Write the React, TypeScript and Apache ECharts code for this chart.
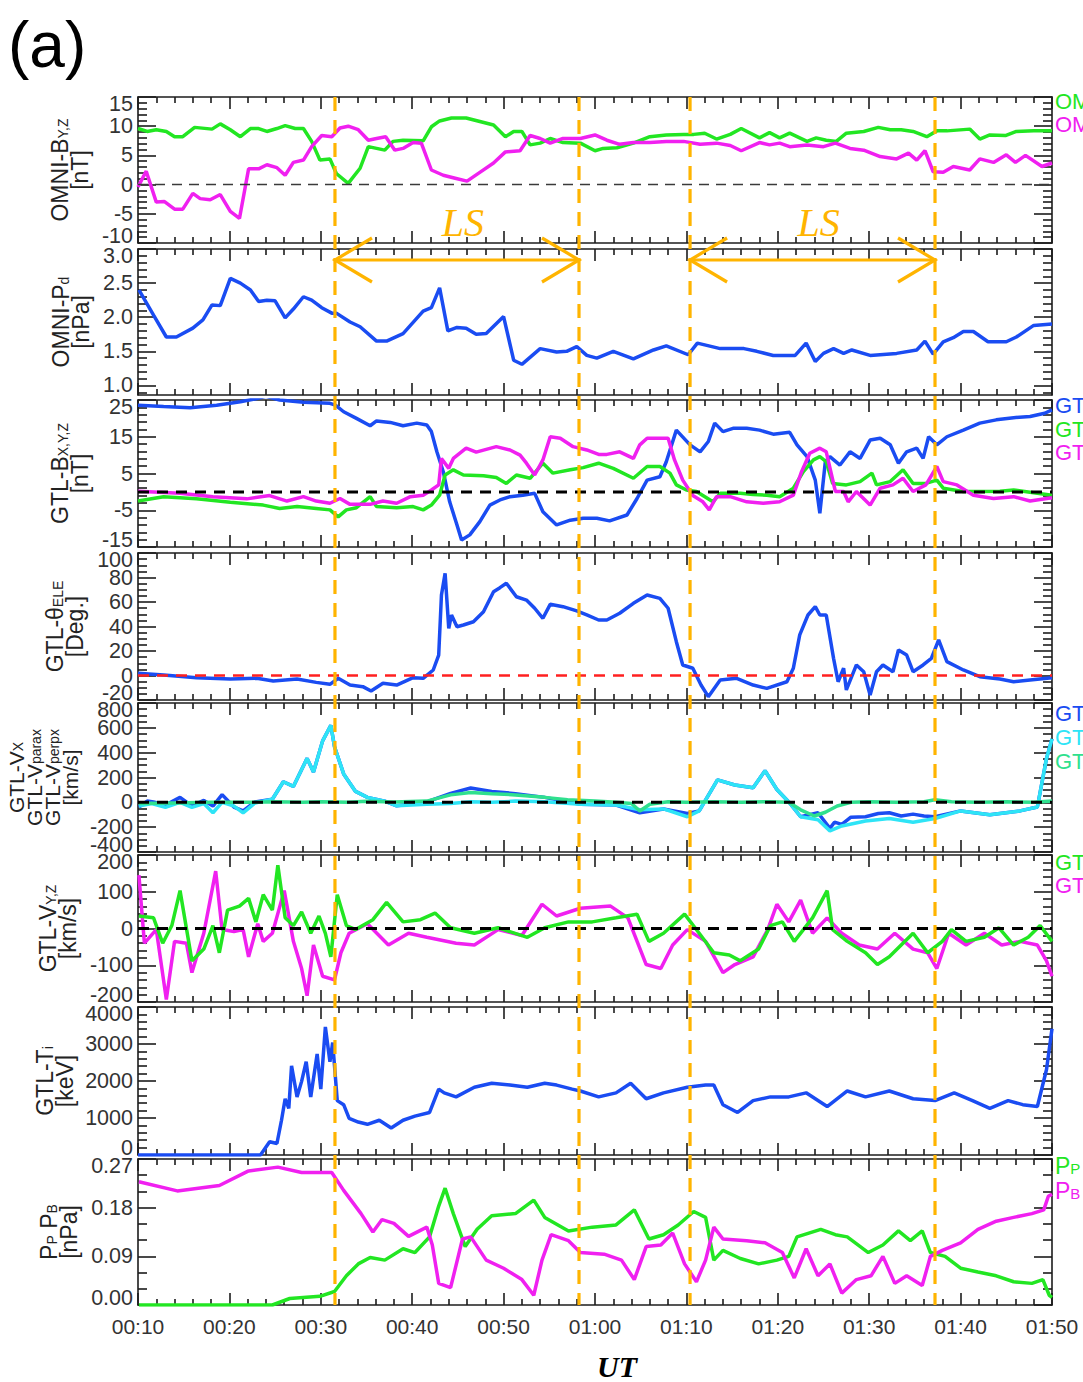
import React, { useEffect, useRef } from "react";
import * as echarts from "echarts";

type Pt = [number, number];

// ---------- time axis: minutes after 00:00 UT ----------
const T_START = 10;
const T_END = 110;
const T_STEP = 10;

// start / end of the two LS intervals (minutes after 00:00 UT)
const lsBounds = [31.55, 58.25, 70.4, 97.2];

// ---------- OMNI IMF (nT) ----------
const omniBy: Pt[] = [[10.0,9.6],[11.0,9.1],[12.0,9.4],[13.1,9.1],[14.0,8.2],[14.9,8.2],[16.2,9.8],[18.1,9.5],[19.0,10.4],[20.1,9.4],[21.2,8.2],[22.3,9.6],[23.2,9.6],[24.1,9.1],[25.2,9.6],[26.1,10.1],[27.2,9.6],[28.1,9.6],[29.0,7.4],[29.9,4.2],[31.0,4.4],[31.7,1.9],[33.0,0.2],[34.3,2.8],[35.2,6.5],[36.1,6.2],[37.0,5.9],[37.9,7.4],[39.0,7.6],[41.2,7.5],[42.1,9.9],[43.0,10.9],[44.3,11.4],[45.9,11.4],[47.4,10.8],[48.9,10.2],[50.2,8.2],[51.1,9.1],[52.0,9.1],[52.9,6.8],[54.0,7.1],[55.1,7.9],[56.5,7.2],[58.4,7.1],[60.0,5.8],[60.9,6.2],[62.4,6.3],[64.2,7.1],[66.0,8.2],[67.8,8.5],[69.7,8.6],[70.8,8.6],[72.0,8.8],[73.3,7.8],[74.8,8.6],[76.0,9.6],[78.0,8.0],[79.1,8.9],[80.2,8.0],[81.3,8.8],[83.2,7.4],[84.2,8.0],[85.3,7.6],[86.4,7.4],[87.5,8.8],[89.4,9.1],[91.0,9.8],[92.3,9.4],[93.5,9.4],[94.8,9.1],[96.3,8.2],[97.4,9.2],[98.5,9.2],[101.0,9.5],[102.1,7.8],[103.2,8.5],[104.9,8.4],[106.1,9.1],[108.0,9.2],[110.0,9.2]];
const omniBz: Pt[] = [[10.0,-0.4],[10.9,2.3],[12.0,-3.0],[12.9,-2.9],[14.0,-4.2],[14.9,-4.2],[16.0,-1.5],[16.8,-2.4],[17.9,-2.6],[19.0,-1.7],[20.1,-4.6],[21.1,-5.8],[22.1,2.7],[23.2,2.7],[24.1,3.4],[25.2,2.9],[26.1,1.6],[27.0,3.8],[28.1,4.2],[29.0,6.5],[30.1,8.4],[31.2,8.2],[32.1,9.7],[33.0,10.0],[34.1,9.4],[35.2,7.6],[36.1,7.9],[37.1,8.2],[38.1,5.9],[39.0,6.2],[40.1,7.2],[41.0,7.1],[42.1,2.5],[43.4,1.6],[44.7,1.1],[46.0,0.6],[47.4,2.1],[48.9,3.7],[50.2,5.6],[51.8,5.8],[52.9,8.4],[54.0,7.9],[55.1,7.1],[56.5,7.9],[58.4,7.9],[60.0,8.5],[61.3,7.6],[62.7,6.9],[64.2,7.2],[66.0,7.2],[67.8,7.4],[69.7,7.4],[71.5,6.9],[73.3,7.1],[74.8,6.7],[76.0,5.8],[78.0,7.2],[79.1,6.8],[80.2,7.1],[81.3,6.5],[83.2,6.8],[85.0,6.5],[86.3,7.1],[87.9,6.2],[89.4,5.9],[91.2,4.8],[93.0,4.4],[94.3,5.4],[95.2,4.2],[96.1,5.8],[97.0,2.2],[98.1,2.1],[99.2,3.1],[101.0,2.5],[102.1,4.4],[103.6,3.8],[105.0,5.1],[106.0,3.8],[107.1,5.0],[108.9,3.1],[110.0,3.7]];

// ---------- OMNI dynamic pressure (nPa) ----------
const omniPd: Pt[] = [[10.1,2.40],[11.7,2.03],[13.1,1.71],[14.2,1.71],[16.0,1.84],[17.1,1.96],[18.1,2.18],[19.0,2.17],[20.1,2.57],[21.2,2.50],[22.3,2.40],[23.2,2.23],[24.1,2.25],[25.0,2.24],[26.1,1.99],[27.0,2.12],[28.1,2.30],[29.0,2.25],[30.1,2.14],[31.2,2.06],[31.7,2.06],[33.2,1.93],[34.3,1.86],[36.1,1.65],[37.2,1.65],[39.0,1.76],[41.2,2.09],[42.1,2.14],[43.0,2.43],[43.9,1.80],[44.9,1.85],[45.9,1.84],[47.0,1.75],[48.1,1.76],[50.0,2.01],[51.1,1.37],[52.0,1.31],[54.0,1.54],[55.8,1.49],[56.9,1.50],[58.0,1.57],[59.1,1.44],[60.2,1.40],[62.0,1.50],[64.2,1.39],[66.4,1.52],[67.8,1.58],[70.2,1.45],[71.2,1.62],[73.7,1.54],[76.3,1.54],[77.7,1.50],[79.5,1.44],[81.9,1.44],[83.1,1.62],[84.1,1.35],[85.0,1.47],[86.1,1.54],[87.2,1.47],[88.1,1.52],[90.1,1.44],[93.0,1.47],[95.2,1.52],[96.1,1.65],[97.0,1.46],[98.1,1.64],[99.2,1.70],[100.3,1.79],[101.4,1.79],[103.0,1.64],[105.0,1.64],[106.1,1.71],[108.0,1.88],[110.0,1.90]];

// ---------- GTL magnetic field (nT) ----------
const gtlBx: Pt[] = [[10.0,23.6],[12.8,23.2],[15.7,22.9],[18.6,23.6],[21.2,24.5],[23.0,25.4],[24.0,26.0],[25.5,25.0],[28.1,24.4],[31.0,24.1],[31.6,23.6],[32.5,21.8],[33.9,20.0],[35.4,18.0],[36.1,19.3],[37.6,18.9],[39.0,18.0],[40.5,18.7],[41.6,18.2],[42.1,16.4],[42.7,10.9],[43.4,5.5],[44.1,-2.7],[44.9,-9.0],[45.4,-13.1],[46.3,-11.7],[47.4,-8.1],[48.5,-3.6],[49.6,-2.2],[50.7,-1.3],[52.1,-0.9],[53.4,-0.4],[54.3,-5.4],[55.8,-9.0],[57.3,-7.7],[58.7,-7.2],[60.2,-7.2],[61.6,-7.9],[63.5,-6.3],[64.6,-1.8],[65.7,3.2],[67.1,4.1],[67.8,8.2],[68.9,16.8],[70.4,12.8],[71.5,10.9],[72.4,13.7],[73.1,18.7],[74.0,16.4],[75.1,17.3],[76.6,17.3],[78.0,16.8],[79.5,15.7],[81.3,16.2],[82.1,12.8],[83.2,9.6],[84.1,3.2],[84.6,-5.8],[85.2,8.2],[85.7,9.6],[86.8,7.3],[87.9,10.9],[89.0,9.1],[90.1,14.1],[91.2,14.6],[92.3,12.8],[93.2,7.8],[94.1,10.9],[95.2,11.9],[95.9,9.1],[96.5,15.0],[97.4,12.8],[98.5,15.0],[100.3,16.8],[102.1,18.7],[103.9,19.6],[105.8,20.2],[107.6,20.5],[109.2,21.4],[110.0,22.3]];
const gtlBy: Pt[] = [[10.0,-2.5],[12.8,-1.3],[16.4,-1.9],[20.1,-2.8],[23.7,-3.6],[25.5,-4.5],[27.4,-4.0],[29.5,-4.5],[31.0,-4.9],[31.9,-6.8],[32.8,-4.9],[33.9,-4.3],[35.4,-1.3],[36.1,-4.0],[38.3,-4.3],[40.1,-4.0],[41.2,-4.9],[42.1,-3.6],[43.0,-0.9],[43.6,4.6],[44.5,6.0],[45.6,4.6],[47.8,4.4],[49.2,3.9],[50.3,2.3],[51.4,4.6],[52.9,3.7],[54.3,7.8],[55.4,5.1],[57.3,6.0],[58.7,6.6],[60.4,7.8],[62.0,6.4],[64.2,3.7],[65.7,6.9],[67.1,6.9],[68.2,5.1],[68.9,1.9],[70.0,0.5],[71.1,0.1],[72.9,-2.7],[73.7,-0.4],[75.9,-0.4],[77.3,-0.7],[78.8,-0.9],[80.2,-1.3],[81.7,1.0],[82.8,5.5],[83.9,8.7],[84.6,9.6],[85.3,8.2],[86.0,2.3],[87.5,1.9],[89.0,2.8],[90.3,5.1],[90.8,1.9],[92.3,2.8],[93.7,6.0],[94.8,2.3],[96.2,2.3],[97.4,3.2],[98.1,1.0],[100.3,0.1],[102.1,0.1],[104.3,0.2],[105.8,0.5],[107.6,-0.1],[110.0,-0.9]];
const gtlBz: Pt[] = [[10.0,0.2],[14.6,-0.4],[18.2,-1.3],[21.9,-1.9],[24.4,-1.0],[26.3,-2.5],[28.1,-1.3],[29.5,-2.5],[31.0,-3.1],[32.1,-1.8],[33.2,-3.4],[35.4,-3.4],[36.8,-2.5],[38.3,-3.1],[39.8,-1.3],[41.2,-0.9],[42.1,0.5],[42.9,1.9],[43.2,9.1],[44.0,6.4],[44.5,9.1],[45.9,11.9],[47.0,10.8],[49.2,12.3],[50.7,11.4],[51.8,10.0],[52.5,7.8],[53.4,4.6],[54.3,8.7],[55.1,15.0],[56.2,14.6],[57.6,12.3],[59.1,11.4],[60.4,10.2],[61.3,10.2],[62.7,10.9],[64.2,9.1],[64.9,12.8],[65.7,14.6],[67.1,14.6],[68.0,14.6],[68.7,8.7],[69.6,3.2],[70.7,-1.0],[71.8,-2.7],[72.5,-4.9],[73.3,-1.3],[74.8,-1.3],[76.6,-2.7],[78.4,-3.1],[80.2,-2.7],[81.7,-0.9],[82.6,5.5],[83.5,10.5],[84.6,11.9],[85.3,10.9],[86.3,0.1],[87.2,0.1],[87.7,-2.7],[88.6,0.1],[90.1,-3.6],[91.2,1.0],[92.6,1.9],[93.7,3.7],[94.8,0.1],[96.2,1.9],[97.4,6.9],[98.1,2.8],[99.6,1.9],[101.4,-0.9],[103.6,-1.8],[105.8,-1.3],[107.6,-2.5],[110.0,-1.6]];

// ---------- GTL elevation angle (deg) ----------
const gtlTheta: Pt[] = [[10.0,1.8],[12.8,0.4],[16.4,-1.8],[20.1,-2.9],[23.0,-2.3],[24.8,-4.5],[27.4,-2.9],[29.5,-5.6],[31.0,-7.2],[31.9,-2.3],[33.2,-7.8],[34.6,-9.1],[35.5,-12.7],[36.8,-6.4],[38.3,-7.8],[40.1,-1.8],[41.2,-2.3],[42.3,4.5],[42.9,16.7],[43.2,65.7],[43.6,83.4],[44.0,38.5],[44.3,49.4],[44.9,39.8],[45.6,41.2],[46.7,43.9],[47.8,52.1],[48.9,68.4],[49.6,71.7],[50.3,75.3],[51.4,64.3],[52.5,61.6],[53.4,54.9],[54.3,46.7],[55.1,58.1],[56.5,56.2],[58.0,52.7],[59.1,49.4],[60.4,45.3],[61.3,45.3],[62.7,50.8],[64.2,58.9],[65.7,65.7],[67.1,63.0],[68.0,54.9],[68.9,27.6],[69.6,8.6],[70.7,5.9],[71.6,-7.8],[72.4,-17.3],[73.7,-3.7],[75.5,-2.3],[77.3,-7.8],[78.8,-10.5],[81.0,-5.1],[81.7,5.9],[82.4,33.1],[83.3,49.4],[84.1,56.2],[84.6,49.4],[85.3,49.4],[86.1,14.0],[86.6,-5.1],[87.2,5.9],[87.5,-11.8],[88.6,8.6],[89.4,3.1],[90.1,-15.9],[90.8,3.1],[91.5,8.6],[92.6,3.1],[93.2,20.8],[94.1,16.7],[94.8,3.1],[95.9,8.6],[96.8,14.0],[97.6,29.0],[98.5,11.3],[100.3,4.5],[102.1,-1.0],[104.3,-2.9],[105.8,-5.1],[107.6,-3.7],[110.0,-1.8]];

// ---------- GTL ion velocity, x components (km/s) ----------
const gtlVx: Pt[] = [[10.1,-38],[11.0,10],[11.7,3],[13.0,-22],[14.6,40],[15.9,-28],[17.2,15],[18.2,-30],[19.2,62],[20.5,-38],[21.5,-69],[22.8,3],[24.7,25],[25.9,166],[27.0,128],[28.5,354],[29.2,244],[30.2,495],[31.1,620],[31.5,448],[32.5,229],[33.8,88],[35.1,40],[37.0,9],[38.3,-28],[41.6,3],[44.2,72],[46.4,115],[48.7,88],[51.3,70],[54.5,40],[58.4,-15],[62.3,-22],[64.9,-84],[67.5,-53],[70.1,-90],[71.4,-69],[73.4,181],[75.3,140],[77.3,118],[78.6,254],[79.9,103],[81.2,3],[82.5,-116],[84.4,-84],[85.7,-210],[86.2,-160],[87.0,-178],[88.0,-120],[89.6,-116],[91.0,-90],[92.2,-84],[93.5,-110],[94.8,-95],[96.0,-110],[97.2,-116],[100.0,-69],[103.2,-100],[106.5,-69],[108.4,-38],[109.4,354],[110.0,511]];
const gtlVparx: Pt[] = [[10.1,-30],[11.5,-10],[13.0,-40],[14.6,0],[15.9,-40],[17.2,-10],[18.2,-84],[19.2,0],[20.5,-30],[21.5,-85],[22.8,-5],[24.7,25],[25.9,166],[27.0,128],[28.5,354],[29.2,244],[30.2,495],[31.1,620],[31.5,448],[32.5,229],[33.8,88],[35.1,40],[37.0,9],[38.3,-28],[41.6,-15],[44.2,-10],[46.4,5],[48.7,0],[51.3,10],[54.5,5],[58.4,-15],[62.3,-22],[64.9,-60],[67.5,-53],[70.1,-116],[71.4,-69],[73.4,181],[75.3,140],[77.3,118],[78.6,254],[79.9,103],[81.2,3],[82.5,-116],[84.4,-140],[85.7,-230],[87.0,-190],[89.6,-150],[92.2,-130],[94.8,-160],[97.2,-130],[100.0,-69],[103.2,-100],[106.5,-69],[108.4,-38],[109.4,354],[110.0,511]];
const gtlVperpx: Pt[] = [[10.1,-10],[14.0,-5],[18.0,0],[22.6,0],[25.0,5],[28.0,0],[30.0,5],[33.0,0],[35.0,8],[38.0,3],[41.6,10],[44.2,60],[46.4,80],[48.7,70],[51.3,60],[54.5,40],[57.0,20],[60.0,10],[62.3,0],[64.0,-10],[64.9,-70],[66.0,-15],[68.0,5],[70.0,0],[73.0,5],[76.0,0],[79.0,5],[81.2,0],[82.5,-60],[84.0,-110],[85.2,-80],[86.5,-30],[88.0,0],[90.0,5],[93.0,0],[96.0,5],[97.2,20],[99.0,5],[102.0,0],[105.0,5],[108.0,0],[110.0,10]];

// ---------- GTL ion velocity, y and z (km/s) ----------
const gtlVy: Pt[] = [[10.1,34],[11.7,29],[12.7,-40],[13.7,8],[14.6,103],[15.9,-88],[17.2,-56],[18.2,8],[18.9,-66],[19.8,50],[21.1,61],[22.1,82],[22.9,18],[23.7,92],[24.7,50],[25.3,172],[26.1,29],[27.0,8],[27.9,45],[28.9,-13],[29.8,34],[30.5,-13],[31.1,-77],[31.8,92],[32.8,8],[33.8,-3],[35.7,24],[37.2,71],[39.0,18],[40.9,24],[42.5,42],[44.2,2],[46.8,-13],[49.4,2],[52.6,-24],[54.5,2],[57.1,18],[59.7,18],[62.3,29],[64.6,39],[65.9,-35],[67.5,-13],[69.8,39],[71.4,-13],[73.0,-66],[74.7,-72],[75.9,-88],[77.9,-56],[79.2,8],[80.5,18],[81.8,-35],[83.8,29],[85.4,103],[86.0,-3],[87.6,-35],[89.6,-66],[90.9,-98],[92.2,-77],[93.5,-45],[94.8,-13],[96.4,-66],[98.0,-35],[99.0,-3],[100.6,-35],[102.6,-24],[104.2,2],[105.8,-45],[107.4,-24],[108.7,8],[110.0,-35]];
const gtlVz: Pt[] = [[10.1,145],[10.7,-40],[12.0,-3],[13.1,-193],[14.0,-35],[15.3,-40],[15.9,-120],[17.2,-13],[18.5,156],[19.2,-3],[20.5,-8],[21.5,-3],[22.1,-77],[23.1,13],[23.7,-35],[24.7,-13],[26.0,103],[27.0,-35],[27.9,-109],[28.5,-183],[29.2,-45],[30.2,-130],[31.5,-140],[32.2,-66],[33.1,-13],[35.1,13],[37.4,-45],[39.6,-13],[41.6,-24],[44.8,-40],[46.8,-45],[49.4,-3],[52.0,-19],[54.2,66],[55.8,34],[58.4,55],[61.7,61],[63.6,29],[65.6,-98],[67.2,-109],[68.5,-45],[70.1,-3],[72.1,-35],[74.0,-120],[75.3,-98],[77.3,-77],[78.9,-3],[79.9,66],[81.2,18],[82.5,77],[83.8,-13],[85.4,29],[87.0,-13],[88.9,-45],[90.9,-56],[92.8,-13],[94.8,-56],[96.4,-66],[97.4,-109],[98.7,-13],[100.6,-45],[102.6,-13],[104.5,-45],[106.5,-35],[108.4,-45],[109.4,-88],[110.0,-130]];

// ---------- GTL ion temperature (keV) ----------
const gtlTi: Pt[] = [[10.0,0],[23.4,0],[24.4,360],[25.2,310],[25.7,940],[26.1,1520],[26.5,1260],[26.8,2410],[27.4,1570],[27.9,1990],[28.4,2520],[28.9,1570],[29.6,2730],[30.0,1780],[30.5,3460],[31.0,2520],[31.3,3040],[31.8,1470],[32.5,1360],[33.1,990],[34.1,890],[35.1,830],[36.4,940],[37.7,730],[39.0,940],[40.3,1050],[41.9,1150],[42.9,1780],[43.5,1680],[44.8,1570],[46.8,1830],[48.7,1940],[50.7,1890],[52.6,1830],[54.5,1940],[55.8,1890],[57.5,1780],[58.4,1730],[60.4,1570],[62.3,1680],[63.9,1940],[65.6,1520],[67.5,1680],[70.1,1830],[72.1,1890],[73.0,1890],[74.0,1360],[75.6,1150],[77.3,1470],[79.2,1570],[81.2,1570],[83.1,1680],[85.4,1310],[87.6,1730],[89.6,1570],[92.2,1730],[94.8,1520],[97.2,1470],[99.3,1680],[101.3,1470],[103.2,1260],[105.2,1470],[106.8,1360],[108.4,1310],[109.4,2310],[110.0,3410]];

// ---------- plasma and magnetic pressure (nPa) ----------
const pPlasma: Pt[] = [[10.1,0],[24.7,0],[26.6,0.012],[29.9,0.016],[31.5,0.025],[32.8,0.054],[34.1,0.076],[35.4,0.088],[37.0,0.083],[39.0,0.104],[40.3,0.097],[41.9,0.126],[42.9,0.183],[43.6,0.216],[44.5,0.169],[45.8,0.108],[47.1,0.140],[48.7,0.165],[51.3,0.169],[53.3,0.194],[54.5,0.162],[57.1,0.137],[59.7,0.144],[62.3,0.148],[64.3,0.176],[65.9,0.122],[67.5,0.130],[69.1,0.148],[70.8,0.173],[72.1,0.162],[73.0,0.083],[74.0,0.101],[75.9,0.086],[77.9,0.076],[79.9,0.083],[81.2,0.090],[82.1,0.126],[83.4,0.133],[84.7,0.140],[86.3,0.130],[87.6,0.126],[89.9,0.097],[91.5,0.111],[93.2,0.137],[94.5,0.119],[95.8,0.137],[96.7,0.097],[98.3,0.090],[100.0,0.068],[101.9,0.061],[103.9,0.054],[105.8,0.043],[107.8,0.040],[109.0,0.047],[109.7,0.018],[110.0,0.014]];
const pMagnetic: Pt[] = [[10.1,0.228],[14.3,0.211],[18.9,0.221],[22.1,0.248],[25.3,0.255],[27.9,0.245],[31.2,0.245],[32.5,0.212],[34.4,0.169],[35.7,0.135],[36.7,0.158],[38.0,0.151],[39.6,0.127],[41.6,0.144],[42.2,0.111],[42.9,0.040],[44.2,0.032],[45.5,0.122],[46.4,0.126],[48.1,0.083],[50.0,0.068],[52.0,0.047],[53.3,0.018],[54.2,0.083],[55.2,0.130],[57.1,0.119],[58.4,0.097],[61.0,0.094],[62.9,0.083],[64.3,0.047],[65.6,0.108],[67.2,0.111],[68.5,0.133],[69.8,0.076],[71.1,0.043],[72.1,0.083],[73.0,0.144],[74.0,0.122],[76.6,0.119],[78.6,0.115],[80.5,0.097],[81.8,0.050],[83.1,0.104],[84.4,0.054],[85.7,0.076],[87.0,0.022],[88.6,0.047],[90.2,0.054],[91.5,0.090],[92.8,0.040],[94.1,0.054],[95.8,0.036],[96.7,0.090],[98.0,0.101],[100.0,0.115],[101.9,0.140],[103.9,0.155],[105.8,0.162],[107.8,0.169],[109.1,0.176],[109.6,0.201],[110.0,0.205]];

// ---------- y tick labels ----------
const pdTicks = [1.0, 1.5, 2.0, 2.5, 3.0];
const pdMinorTicks = [0.9, 1.1, 1.2, 1.3, 1.4, 1.6, 1.7, 1.8, 1.9, 2.1, 2.2, 2.3, 2.4, 2.6, 2.7, 2.8, 2.9];

// ---------- layout and style ----------
const W = 1083;
const H = 1382;
const PLOT_LEFT = 138;
const PLOT_WIDTH = 914;
const PANEL_TOPS = [97, 249, 400, 553, 703, 855, 1007, 1159];
const PANEL_HEIGHTS = [146, 146, 147, 147, 149, 147, 148, 146];

const FONT = "'Liberation Sans', Arial, sans-serif";
const SERIF = "'Liberation Serif', 'Times New Roman', serif";
const GREEN = "#22e622";
const MAGENTA = "#f020f0";
const BLUE = "#1a4cf2";
const CYAN = "#2ee4f6";
const SEAGREEN = "#2fe08e";
const ORANGE = "#ffb400";
const AXIS = "#1c1c1c";
const LABEL = "#333333";
const LW = 3.5;

type YScale = {
  min: number; max: number; dec: number;
  interval?: number; minor?: number;
  majors?: number[]; minors?: number[];
};

const yScales: YScale[] = [
  { min: -10, max: 15, interval: 5, minor: 5, dec: 0 },
  { min: 0.86, max: 3.0, majors: pdTicks, minors: pdMinorTicks, dec: 1 },
  { min: -15, max: 25, interval: 10, minor: 5, dec: 0 },
  { min: -20, max: 100, interval: 20, minor: 4, dec: 0 },
  { min: -400, max: 800, interval: 200, minor: 4, dec: 0 },
  { min: -200, max: 200, interval: 100, minor: 5, dec: 0 },
  { min: 0, max: 4000, interval: 1000, minor: 5, dec: 0 },
  { min: 0, max: 0.27, interval: 0.09, minor: 3, dec: 2 },
];

const yTitles = [
  { x: 70, size: 23, lh: 20, lines: "{m|OMNI-B}{s|Y,Z}\n{m|[nT]}" },
  { x: 71, size: 23, lh: 20, lines: "{m|OMNI-P}{s|d}\n{m|[nPa]}" },
  { x: 70, size: 23, lh: 20, lines: "{m|GTL-B}{s|X,Y,Z}\n{m|[nT]}" },
  { x: 65, size: 23, lh: 20, lines: "{m|GTL-θ}{s|ELE}\n{m|[Deg.]}" },
  { x: 43, size: 21, lh: 18, lines: "{m|GTL-V}{s|X}\n{m|GTL-V}{s|parax}\n{m|GTL-V}{s|perpx}\n{m|[km/s]}" },
  { x: 58, size: 23, lh: 20, lines: "{m|GTL-V}{s|Y,Z}\n{m|[km/s]}" },
  { x: 55, size: 23, lh: 20, lines: "{m|GTL-T}{s|i}\n{m|[keV]}" },
  { x: 59, size: 23, lh: 20, lines: "{m|P}{s|P}{m| P}{s|B}\n{m|[nPa]}" },
];

const legends = [
  { y: 101, text: "OMNI-BY", color: GREEN },
  { y: 124, text: "OMNI-BZ", color: MAGENTA },
  { y: 405, text: "GTL-BX", color: BLUE },
  { y: 429, text: "GTL-BY", color: GREEN },
  { y: 452, text: "GTL-BZ", color: MAGENTA },
  { y: 713, text: "GTL-VX", color: BLUE },
  { y: 737, text: "GTL-Vparax", color: CYAN },
  { y: 761, text: "GTL-Vperpx", color: SEAGREEN },
  { y: 862, text: "GTL-VY", color: GREEN },
  { y: 885, text: "GTL-VZ", color: MAGENTA },
];

const hhmm = (v: number) => {
  const h = Math.floor(v / 60);
  const m = Math.round(v - h * 60);
  return `${String(h).padStart(2, "0")}:${String(m).padStart(2, "0")}`;
};

function buildOption() {
  const axisLine = { color: AXIS, width: 1.6 };
  const labelBase = { fontSize: 21.5, lineHeight: 14, color: LABEL, fontFamily: FONT, margin: 5 };
  const grid = PANEL_TOPS.map((top, i) => ({
    left: PLOT_LEFT, width: PLOT_WIDTH, top, height: PANEL_HEIGHTS[i], show: false,
  }));

  const xAxis: any[] = [];
  PANEL_TOPS.forEach((_, i) => {
    ["bottom", "top"].forEach((position) => {
      xAxis.push({
        type: "value", gridIndex: i, position, min: T_START, max: T_END, interval: T_STEP,
        axisLine: { show: true, onZero: false, lineStyle: axisLine },
        axisTick: { show: true, inside: true, length: 12, lineStyle: axisLine },
        minorTick: { show: true, splitNumber: 5, length: 6, lineStyle: axisLine },
        splitLine: { show: false },
        minorSplitLine: { show: false },
        axisLabel: {
          show: position === "bottom" && i === PANEL_TOPS.length - 1,
          showMinLabel: true, showMaxLabel: true, hideOverlap: false,
          formatter: hhmm, fontSize: 21, color: LABEL, fontFamily: FONT, margin: 11,
        },
      });
    });
  });

  const yAxis: any[] = [];
  const yLeft: number[] = [];
  yScales.forEach((s, i) => {
    const fmt = (v: number) => v.toFixed(s.dec);
    ["left", "right"].forEach((position) => {
      const isLeft = position === "left";
      if (isLeft) yLeft.push(yAxis.length);
      const ax: any = {
        type: "value", gridIndex: i, position, min: s.min, max: s.max,
        axisLine: { show: true, onZero: false, lineStyle: axisLine },
        splitLine: { show: false },
        minorSplitLine: { show: false },
        axisTick: { show: true, inside: true, length: 18, lineStyle: axisLine },
      };
      if (s.interval) {
        ax.interval = s.interval;
        ax.minorTick = { show: true, splitNumber: s.minor, length: 9, lineStyle: axisLine };
        // end labels are drawn by a companion axis so they can sit inside the panel
        ax.axisLabel = { ...labelBase, show: isLeft, formatter: fmt, showMinLabel: false, showMaxLabel: false };
      } else {
        ax.axisTick.customValues = s.majors;
        const inner = (s.majors as number[]).filter((v) => v < s.max);
        ax.axisLabel = { ...labelBase, show: isLeft, formatter: fmt, customValues: inner, showMinLabel: true, showMaxLabel: true };
      }
      yAxis.push(ax);
      if (!s.interval) {
        yAxis.push({
          type: "value", gridIndex: i, position, min: s.min, max: s.max,
          axisLine: { show: false }, splitLine: { show: false },
          axisLabel: { show: false },
          axisTick: { show: true, inside: true, length: 9, lineStyle: axisLine, customValues: s.minors },
        });
      }
    });
    // companion axis carrying only the labels at the panel edges
    const ends = s.interval ? [s.min, s.max] : [s.max];
    yAxis.push({
      type: "value", gridIndex: i, position: "left", min: s.min, max: s.max,
      axisLine: { show: false }, axisTick: { show: false }, splitLine: { show: false },
      axisLabel: {
        ...labelBase, formatter: fmt, customValues: ends, showMinLabel: true, showMaxLabel: true,
        verticalAlignMinLabel: s.interval ? "bottom" : "top",
        verticalAlignMaxLabel: "top",
      },
    });
  });

  const line = (data: Pt[], color: string, panel: number, width = LW, z = 2) => ({
    type: "line", data, xAxisIndex: panel * 2, yAxisIndex: yLeft[panel],
    showSymbol: false, symbol: "none", lineStyle: { color, width }, itemStyle: { color },
    z, silent: true, clip: true,
  });
  const zeroLine = (panel: number, color: string, width: number, dash: number[]) => ({
    type: "line", data: [[T_START, 0], [T_END, 0]] as Pt[], xAxisIndex: panel * 2, yAxisIndex: yLeft[panel],
    showSymbol: false, symbol: "none", lineStyle: { color, width, type: dash }, z: 4, silent: true,
  });

  const series = [
    line(omniBy, GREEN, 0), line(omniBz, MAGENTA, 0), zeroLine(0, "#3a3a3a", 1.5, [10, 7]),
    line(omniPd, BLUE, 1),
    line(gtlBx, BLUE, 2), line(gtlBy, GREEN, 2), line(gtlBz, MAGENTA, 2), zeroLine(2, "#000", 3, [11, 8]),
    line(gtlTheta, BLUE, 3), zeroLine(3, "#ff2020", 2.6, [11, 8]),
    line(gtlVx, BLUE, 4), line(gtlVparx, CYAN, 4), line(gtlVperpx, SEAGREEN, 4), zeroLine(4, "#000", 3, [11, 8]),
    line(gtlVz, MAGENTA, 5), line(gtlVy, GREEN, 5), zeroLine(5, "#000", 3, [11, 8]),
    line(gtlTi, BLUE, 6),
    line(pPlasma, GREEN, 7), line(pMagnetic, MAGENTA, 7),
  ];

  return { animation: false, backgroundColor: "#ffffff", grid, xAxis, yAxis, series };
}

function buildGraphics(chart: echarts.ECharts) {
  const g: any[] = [];
  const xs = lsBounds.map((t) => chart.convertToPixel({ xAxisIndex: 0 }, t) as number);
  const top = PANEL_TOPS[0];
  const bottom = PANEL_TOPS[PANEL_TOPS.length - 1] + PANEL_HEIGHTS[PANEL_HEIGHTS.length - 1];

  xs.forEach((x) => {
    g.push({
      type: "line", silent: true, z: 50,
      shape: { x1: x, y1: top, x2: x, y2: bottom },
      style: { stroke: ORANGE, lineWidth: 3.2, lineDash: [14, 9] },
    });
  });

  // LS intervals: label and double-headed arrow
  const arrowY = 260;
  const headDx = 37;
  const headDy = 22;
  for (let k = 0; k < 2; k++) {
    const xa = xs[2 * k];
    const xb = xs[2 * k + 1];
    g.push({
      type: "text", silent: true, z: 60, x: (xa + xb) / 2 + 6, y: 222,
      style: { text: "LS", font: `italic 40px ${SERIF}`, fill: ORANGE, align: "center", verticalAlign: "middle" },
    });
    const st = { stroke: ORANGE, lineWidth: 3.2, fill: "none" };
    g.push({ type: "line", silent: true, z: 60, shape: { x1: xa, y1: arrowY, x2: xb, y2: arrowY }, style: st });
    g.push({ type: "polyline", silent: true, z: 60, shape: { points: [[xa + headDx, arrowY - headDy], [xa, arrowY], [xa + headDx, arrowY + headDy]] }, style: st });
    g.push({ type: "polyline", silent: true, z: 60, shape: { points: [[xb - headDx, arrowY - headDy], [xb, arrowY], [xb - headDx, arrowY + headDy]] }, style: st });
  }

  // rotated axis titles
  yTitles.forEach((t, i) => {
    g.push({
      type: "text", silent: true, z: 10,
      x: t.x, y: PANEL_TOPS[i] + PANEL_HEIGHTS[i] / 2, rotation: Math.PI / 2,
      style: {
        text: t.lines, fill: "#222", align: "center", verticalAlign: "middle",
        fontFamily: FONT, fontSize: t.size,
        rich: {
          m: { fontSize: t.size, lineHeight: t.lh, fontFamily: FONT, fill: "#222" },
          s: { fontSize: 14, lineHeight: 11, fontFamily: FONT, fill: "#222", verticalAlign: "bottom" },
        },
      },
    });
  });

  // series names at the right edge
  legends.forEach((l) => {
    g.push({
      type: "text", silent: true, z: 10, x: 1055, y: l.y,
      style: { text: l.text, fill: l.color, fontSize: 22, fontFamily: FONT, lineHeight: 20, align: "left", verticalAlign: "middle" },
    });
  });
  g.push({
    type: "text", silent: true, z: 10, x: 1055, y: 1166,
    style: {
      text: "{m|P}{s|P}", fill: GREEN, align: "left", verticalAlign: "middle",
      rich: { m: { fontSize: 23, fontFamily: FONT, fill: GREEN, lineHeight: 20 }, s: { fontSize: 15, fontFamily: FONT, fill: GREEN, lineHeight: 12, verticalAlign: "bottom" } },
    },
  });
  g.push({
    type: "text", silent: true, z: 10, x: 1055, y: 1191,
    style: {
      text: "{m|P}{s|B}", fill: MAGENTA, align: "left", verticalAlign: "middle",
      rich: { m: { fontSize: 23, fontFamily: FONT, fill: MAGENTA, lineHeight: 20 }, s: { fontSize: 15, fontFamily: FONT, fill: MAGENTA, lineHeight: 12, verticalAlign: "bottom" } },
    },
  });

  // panel tag and time axis title
  g.push({
    type: "text", silent: true, x: 8, y: 45,
    style: { text: "(a)", font: `64px ${FONT}`, fill: "#000", align: "left", verticalAlign: "middle" },
  });
  g.push({
    type: "text", silent: true, x: (PLOT_LEFT + PLOT_LEFT + PLOT_WIDTH) / 2 + 22, y: 1366,
    style: { text: "UT", font: `italic bold 30px ${SERIF}`, fill: "#000", align: "center", verticalAlign: "middle" },
  });

  return g;
}

export default function App() {
  const ref = useRef<HTMLDivElement>(null);
  useEffect(() => {
    if (!ref.current) return;
    const chart = echarts.init(ref.current, undefined, { renderer: "svg" });
    chart.setOption(buildOption() as any);
    chart.setOption({ graphic: buildGraphics(chart) } as any);
    return () => chart.dispose();
  }, []);
  return (
    <div
      ref={ref}
      style={{ position: "absolute", left: 0, top: 0, width: W, height: H, background: "#fff" }}
    />
  );
}
